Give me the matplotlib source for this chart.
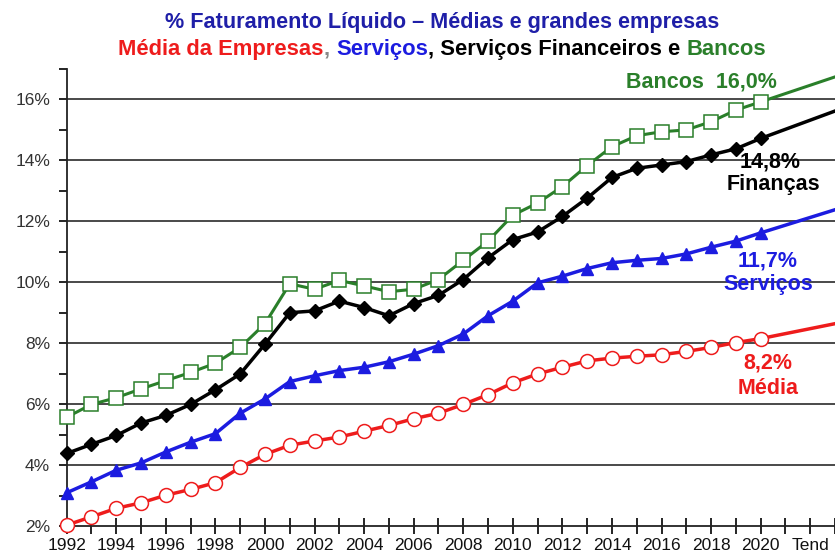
import matplotlib
matplotlib.use("Agg")
import matplotlib.pyplot as plt
import numpy as np

plt.rcParams['font.family'] = ['Liberation Sans', 'DejaVu Sans']

years = list(range(1992, 2021))
media = [2.03, 2.30, 2.58, 2.76, 3.01, 3.20, 3.42, 3.92, 4.35, 4.65, 4.79, 4.92, 5.11, 5.30,
         5.52, 5.70, 5.99, 6.31, 6.70, 6.99, 7.21, 7.42, 7.51, 7.57, 7.62, 7.73, 7.86, 8.02, 8.15]
servicos = [3.09, 3.45, 3.83, 4.07, 4.43, 4.75, 5.03, 5.70, 6.17, 6.74, 6.93, 7.10, 7.21, 7.39,
            7.64, 7.92, 8.30, 8.90, 9.38, 9.98, 10.20, 10.45, 10.64, 10.72, 10.78, 10.93, 11.15, 11.35, 11.62]
financas = [4.38, 4.68, 4.97, 5.38, 5.63, 5.99, 6.47, 6.99, 7.97, 9.00, 9.06, 9.38, 9.17, 8.90,
            9.30, 9.57, 10.09, 10.80, 11.40, 11.65, 12.16, 12.76, 13.44, 13.74, 13.85, 13.96, 14.18, 14.38, 14.72]
bancos = [5.57, 5.99, 6.21, 6.50, 6.77, 7.04, 7.34, 7.86, 8.64, 9.95, 9.77, 10.06, 9.88, 9.69,
          9.77, 10.09, 10.72, 11.35, 12.20, 12.60, 13.14, 13.83, 14.45, 14.81, 14.94, 15.00, 15.27, 15.65, 15.92]

trend_years = [2020, 2023]
media_trend = [8.15, 8.64]
servicos_trend = [11.62, 12.38]
financas_trend = [14.72, 15.62]
bancos_trend = [15.92, 16.74]

xtick_pos = list(range(1992, 2023, 2))
xtick_labels = [str(y) for y in range(1992, 2021, 2)] + ['Tend']
ytick_pos = [2, 4, 6, 8, 10, 12, 14, 16]
ytick_labels = ['2%', '4%', '6%', '8%', '10%', '12%', '14%', '16%']

RED = '#ee1c1c'
BLUE = '#1c1ce0'
GREEN = '#2a7f2a'
BLACK = '#000000'
TITLE_BLUE = '#1f1fa8'

fig = plt.figure(figsize=(8.35, 5.55), dpi=100)
ax = fig.add_axes([0.0799, 0.0523, 0.9201, 0.8234])

for yv in [4, 6, 8, 10, 12, 14, 16]:
    ax.axhline(yv, color='#3a3a3a', lw=1.3, zorder=1)

ax.plot(trend_years, bancos_trend, color=GREEN, lw=2.2, zorder=2)
ax.plot(trend_years, financas_trend, color=BLACK, lw=2.5, zorder=2)
ax.plot(trend_years, servicos_trend, color=BLUE, lw=2.5, zorder=2)
ax.plot(trend_years, media_trend, color=RED, lw=2.5, zorder=2)

ax.plot(years, bancos, color=GREEN, lw=2.2, marker='s', ms=10, mfc='white', mec=GREEN, mew=1.1,
        zorder=3, clip_on=False)
ax.plot(years, financas, color=BLACK, lw=2.5, marker='D', ms=7.5, mfc=BLACK, mec=BLACK,
        zorder=3, clip_on=False)
ax.plot(years, servicos, color=BLUE, lw=2.5, marker='^', ms=8, mfc=BLUE, mec=BLUE,
        zorder=3, clip_on=False)
ax.plot(years, media, color=RED, lw=2.5, marker='o', ms=10, mfc='white', mec=RED, mew=1.1,
        zorder=4, clip_on=False)

ax.set_xlim(1992, 2023)
ax.set_ylim(2, 17)
ax.set_xticks(range(1992, 2024), minor=True)
ax.set_xticks(xtick_pos)
ax.set_xticklabels(xtick_labels)
ax.set_yticks(ytick_pos)
ax.set_yticks(range(3, 18, 2), minor=True)
ax.set_yticklabels(ytick_labels)

ax.tick_params(axis='x', which='both', direction='inout', length=11, width=1.2, labelsize=12.5,
               colors='black', pad=3)
ax.tick_params(axis='y', which='both', direction='out', length=6, width=1.2, labelsize=12.5,
               colors='black', pad=6)
ax.tick_params(axis='y', labelcolor='#333333')
ax.tick_params(axis='x', labelcolor='#111111')

for s in ['top', 'right']:
    ax.spines[s].set_visible(False)
for s in ['left', 'bottom']:
    ax.spines[s].set_linewidth(1.3)
    ax.spines[s].set_color('#222222')

afs = 15.5
ax.text(2017.6, 16.57, 'Bancos  16,0%', color=GREEN, fontsize=afs, fontweight='bold', ha='center', va='center')
ax.text(2020.4, 13.96, '14,8%', color=BLACK, fontsize=afs, fontweight='bold', ha='center', va='center')
ax.text(2020.5, 13.2, 'Finanças', color=BLACK, fontsize=afs, fontweight='bold', ha='center', va='center')
ax.text(2020.3, 10.69, '11,7%', color=BLUE, fontsize=afs, fontweight='bold', ha='center', va='center')
ax.text(2020.3, 9.94, 'Serviços', color=BLUE, fontsize=afs, fontweight='bold', ha='center', va='center')
ax.text(2020.3, 7.36, '8,2%', color=RED, fontsize=afs, fontweight='bold', ha='center', va='center')
ax.text(2020.3, 6.51, 'Média', color=RED, fontsize=afs, fontweight='bold', ha='center', va='center')

fw = fig.get_figwidth() * fig.dpi
title_cx = 442 / fw
fig.text(title_cx, 1 - 28 / 555, '% Faturamento Líquido – Médias e grandes empresas', color=TITLE_BLUE,
         fontsize=15.6, fontweight='bold', ha='center', va='baseline')

pieces = [('Média da Empresas', RED), (', ', '#888888'), ('Serviços', BLUE),
          (', Serviços Financeiros e ', BLACK), ('Bancos', GREEN)]
fig.canvas.draw()
renderer = fig.canvas.get_renderer()
texts = []
widths = []
for s, c in pieces:
    t = fig.text(0, 1 - 55 / 555, s, color=c, fontsize=15.8, fontweight='bold', ha='left', va='baseline')
    texts.append(t)
    widths.append(t.get_window_extent(renderer).width)
total = sum(widths)
x0 = 442 - total / 2
for t, w in zip(texts, widths):
    t.set_x(x0 / fw)
    x0 += w

fig.savefig('out.png', dpi=100)
